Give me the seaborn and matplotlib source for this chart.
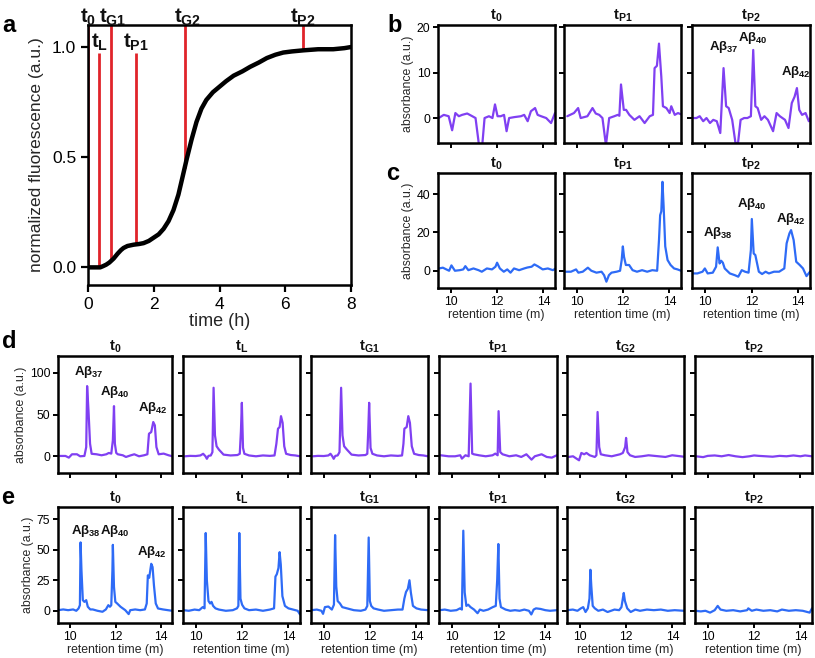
import matplotlib
matplotlib.use("Agg")
import matplotlib.pyplot as plt
import matplotlib.transforms as mtransforms
import seaborn as sns
import numpy as np

# ---------------- data ----------------
# panel a: normalized ThT fluorescence
time_h = [0, 0.1, 0.2, 0.3, 0.37, 0.45, 0.55, 0.65, 0.78, 0.9, 1.0, 1.08, 1.2, 1.39, 1.55, 1.69,
          1.85, 1.99, 2.15, 2.3, 2.45, 2.6, 2.75, 2.86, 3.0, 3.15, 3.3, 3.45, 3.6, 3.8, 4.0, 4.2,
          4.43, 4.7, 4.93, 5.2, 5.44, 5.7, 5.94, 6.2, 6.55, 7.0, 7.46, 7.8, 8.0]
fluor = [0, 0, 0, 0, 0, 0.005, 0.012, 0.022, 0.04, 0.062, 0.078, 0.088, 0.097, 0.103, 0.106, 0.11,
         0.12, 0.134, 0.15, 0.175, 0.21, 0.26, 0.33, 0.40, 0.49, 0.58, 0.66, 0.72, 0.76, 0.795, 0.82, 0.845,
         0.87, 0.89, 0.91, 0.93, 0.95, 0.965, 0.975, 0.98, 0.985, 0.99, 0.99, 0.995, 1.0]
mark_names = ["0", "L", "G1", "P1", "G2", "P2"]
mark_times = [0.0, 0.32, 0.71, 1.46, 2.94, 6.55]
mark_top = [1.1, 0.975, 1.1, 0.975, 1.1, 1.1]
mark_bottom = [0.0, 0.0, 0.03, 0.105, 0.45, 0.985]

# panel b (purple, Abeta37/40/42 mixture, low conc.)
b_t0_x = [9.48, 9.70, 9.91, 10.06, 10.20, 10.35, 10.49, 10.71, 10.93, 11.07, 11.22, 11.36, 11.46, 11.65, 11.80,
          11.91, 12.02, 12.16, 12.30, 12.41, 12.52, 12.74, 13.03, 13.17, 13.32, 13.46, 13.64, 13.75, 13.90,
          14.12, 14.33, 14.50]
b_t0_y = [0, 0.7, 0.4, -2.7, 1.1, 0.4, 0.7, 1.0, 0.4, 0, -6, -6, 0, 0.4, 0, 3, 0.4, 0.4, 0.7, -2.9, 0, 0.2,
          0.4, 0.7, -0.7, 1.5, 2.2, 0.7, 0.4, 0, -1.1, 1.1]
b_tP1_x = [9.59, 9.88, 10.06, 10.17, 10.46, 10.68, 10.82, 10.97, 11.11, 11.26, 11.40, 11.62, 11.77, 11.84,
           11.91, 12.03, 12.13, 12.27, 12.49, 12.71, 12.93, 13.15, 13.29, 13.36, 13.46, 13.55, 13.65, 13.72,
           13.87, 14.01, 14.08, 14.23, 14.37, 14.56]
b_tP1_y = [0.4, 1.1, 2.2, 0, 0.4, 2.2, 1.0, 0.7, 0, -6, 0, 0.4, 0.7, 0.5, 7.4, 1.8, 1.8, 0.7, -0.4, 0.4, -1.1,
           0.4, 0.7, 11, 11.5, 16.4, 9.1, 2.6, 2.2, 1.1, 2.6, 0.7, 1.1, 0.7]
b_tP2_x = [9.46, 9.64, 9.78, 9.93, 10.07, 10.22, 10.36, 10.51, 10.66, 10.80, 10.91, 11.02, 11.17, 11.31,
           11.42, 11.53, 11.68, 11.82, 11.97, 12.07, 12.16, 12.26, 12.41, 12.55, 12.70, 12.92, 13.07, 13.21,
           13.43, 13.58, 13.72, 13.84, 13.94, 14.04, 14.16, 14.31, 14.45, 14.6]
b_tP2_y = [0, 0, 0.4, -0.7, 0, -1.1, -0.4, -0.7, -3.3, 11, 2.6, 2.2, -0.4, -5.5, -5.5, -0.4, 0, 0, 0.4, 15,
           2.6, 2.2, -0.4, 0.4, -0.4, -2.9, 1.1, 0.4, -0.4, -2.2, 3.3, 4.7, 6.6, 1.8, 0.7, 1.1, -0.7, 0.7]

# panel c (blue, Abeta38/40/42 mixture, low conc.)
c_t0_x = [9.49, 9.66, 9.81, 9.93, 10.03, 10.18, 10.39, 10.54, 10.63, 10.76, 10.98, 11.20, 11.34, 11.56,
          11.78, 11.93, 12.0, 12.12, 12.29, 12.44, 12.58, 12.73, 12.95, 13.17, 13.31, 13.49, 13.61, 13.75,
          13.97, 14.19, 14.41, 14.53]
c_t0_y = [1.2, 1.6, 0.7, 0, 2.8, 0, 0.3, 0.7, 2.4, 0.3, 1.2, 0.3, -0.5, 1.2, 0.7, 2.1, 4.2, 1.2, -0.5, 0.7,
          -1, 1.2, 0.3, 1.2, 1.7, 2.1, 3.3, 2.4, 0.7, 1.2, 0.3, 1.2]
c_tP1_x = [9.46, 9.75, 9.97, 10.07, 10.26, 10.48, 10.63, 10.85, 11.07, 11.18, 11.28, 11.39, 11.50, 11.72,
           11.87, 11.94, 11.99, 12.04, 12.12, 12.26, 12.41, 12.60, 12.82, 13.04, 13.26, 13.47, 13.55, 13.60,
           13.65, 13.70, 13.75, 13.82, 13.92, 14.05, 14.2, 14.35, 14.5]
c_tP1_y = [-0.5, -0.5, 0.7, -1, -0.5, 1.6, 0, -1, -0.5, -2.3, -5.7, -2.3, -1, -0.5, 0, 5.6, 12.7, 7.3, 3, 3,
           0.3, -0.5, 0.3, -0.5, 0.3, 0, 16, 29, 31, 46.4, 33.6, 12.7, 5.6, 3, 1.2, 0.7, 0]
c_tP2_x = [9.43, 9.68, 9.9, 10.0, 10.12, 10.34, 10.48, 10.55, 10.63, 10.70, 10.77, 10.85, 11.07, 11.28,
           11.43, 11.58, 11.72, 11.87, 11.97, 12.01, 12.09, 12.16, 12.31, 12.45, 12.60, 12.74, 12.96, 13.18,
           13.40, 13.50, 13.62, 13.69, 13.80, 13.91, 14.06, 14.20, 14.35, 14.50]
c_tP2_y = [-1.4, -1.4, -0.5, 1.2, -1.4, -1, 2.1, 12.2, 3.8, 5.2, 4.2, 1.2, -1.4, -2.3, -3.1, 0.3, -0.5, -1,
           10.8, 27, 9, 8.2, -0.5, -1.7, -0.5, -1.4, -0.5, -0.5, 1.2, 14.3, 19.5, 21.2, 16, 4.7, 3, 1.2, -2.8, -0.5]

# panel d (purple, high conc.)
d_t0_x = [9.54, 9.78, 9.93, 10.07, 10.29, 10.43, 10.62, 10.70, 10.74, 10.80, 10.87, 10.94, 11.16, 11.38,
          11.59, 11.70, 11.81, 11.88, 11.93, 11.97, 12.03, 12.10, 12.32, 12.46, 12.68, 12.83, 13.04, 13.26,
          13.41, 13.48, 13.58, 13.67, 13.74, 13.81, 13.91, 14.13, 14.35, 14.52]
d_t0_y = [0.4, 0.4, -1.6, 2.4, 2.4, 0, 0.4, 11, 84, 55, 15, 3, 2.4, 1.2, 2.4, 4, 3.2, 19, 60, 15, 4, 2.4, 1.2,
          -0.8, 1.2, 2.4, 0, 1.2, 2.4, 27, 29, 41, 37, 11, 2.4, 3.2, 1.2, 0]
d_tL_x = [9.54, 9.75, 10.0, 10.2, 10.32, 10.42, 10.48, 10.55, 10.65, 10.72, 10.77, 10.83, 10.90, 11.0, 11.2,
          11.5, 11.8, 11.9, 11.95, 11.99, 12.04, 12.1, 12.3, 12.6, 12.9, 13.2, 13.4, 13.48, 13.55, 13.62,
          13.68, 13.75, 13.82, 13.9, 14.1, 14.3, 14.5]
d_tL_y = [0, 0.5, 0.3, 1, 3, 0, -3, 0.5, 1, 5, 82, 25, 12, 8, 2, 1, 1.5, 3, 30, 64, 10, 3, 1, 0, 1, 0.5, 1, 15,
          33, 35, 48, 40, 12, 3, 1.5, 1, 0]
d_tG1_x = [9.54, 9.75, 10.0, 10.2, 10.29, 10.37, 10.43, 10.5, 10.6, 10.68, 10.75, 10.81, 10.88, 11.0, 11.2,
           11.5, 11.8, 11.88, 11.92, 11.96, 12.02, 12.1, 12.3, 12.6, 12.9, 13.2, 13.38, 13.44, 13.48, 13.58,
           13.65, 13.72, 13.8, 13.9, 14.1, 14.3, 14.5]
d_tG1_y = [0, 0.5, 0.3, 1, 3, 0, -3, 0.5, 1, 5, 82, 25, 12, 8, 2, 1, 1.5, 3, 30, 64, 10, 3, 1, 0, 1, 0.5, 1,
           15, 33, 35, 48, 40, 12, 3, 1.5, 1, 0]
d_tP1_x = [9.52, 9.86, 10.14, 10.36, 10.43, 10.58, 10.72, 10.80, 10.87, 10.94, 11.16, 11.45, 11.74, 11.86,
           11.96, 12.00, 12.07, 12.17, 12.46, 12.75, 12.97, 13.19, 13.41, 13.55, 13.84, 14.06, 14.28, 14.49]
d_tP1_y = [1.2, 0, 0, 1.2, -2.8, 1.2, 0, 87, 3.2, 2.4, 1.2, 0, 1.2, 3.2, 1.2, 54, 5, 2.4, 0, 1.2, -0.8, 2.4,
           -4, 0, 2.4, -0.8, -1.6, 1.2]
d_tG2_x = [9.52, 9.71, 9.86, 9.97, 10.07, 10.19, 10.29, 10.43, 10.65, 10.72, 10.77, 10.84, 10.91, 11.09,
           11.38, 11.74, 11.86, 11.96, 12.0, 12.06, 12.17, 12.39, 12.68, 12.97, 13.26, 13.70, 13.99, 14.35, 14.57]
d_tG2_y = [-0.8, 0, -2.8, -4.8, 4, 2.4, 4, 1.2, -0.8, 1.2, 53, 11, 2.4, 1.2, 0, 2.4, 4, 11, 22, 5, 1.2, -0.8,
           0, 1.2, 0.4, -0.8, 1.2, 0, -0.8]
d_tP2_x = [9.5, 9.8, 10.0, 10.3, 10.6, 10.9, 11.2, 11.5, 11.8, 12.0, 12.2, 12.5, 12.8, 13.1, 13.4, 13.7,
           14.0, 14.2, 14.5]
d_tP2_y = [0, -1, 0.5, 1, 0, 1.5, 0, -1, 0, 1, 0.5, 0, -0.5, 0.5, 0, 1, 0, 1, 0]

# panel e (blue, high conc.)
e_t0_x = [9.46, 9.68, 9.90, 10.12, 10.26, 10.36, 10.42, 10.45, 10.49, 10.55, 10.62, 10.70, 10.77, 10.88,
          10.99, 11.20, 11.42, 11.57, 11.68, 11.75, 11.81, 11.86, 11.88, 11.93, 11.99, 12.07, 12.22, 12.43,
          12.58, 12.65, 12.87, 13.09, 13.30, 13.38, 13.43, 13.49, 13.58, 13.64, 13.70, 13.78, 13.88, 14.10,
          14.32, 14.51]
e_t0_y = [0.5, 1.1, 0.5, 1.1, 0, 1.9, 4.6, 56, 33, 8.7, 7.3, 8.7, 3.3, 1.1, 1.1, 0, -0.8, 1.1, 4.6, 3.3, 4.6,
          33, 54, 19.5, 7.3, 6, 3.3, 0.5, -2.7, 0.5, 1.1, 0.5, 1.1, 6, 29, 27, 38.5, 35.8, 20.9, 6, 1.9, 1.1,
          0.5, 0]
e_tL_x = [9.47, 9.7, 9.95, 10.15, 10.3, 10.38, 10.43, 10.48, 10.55, 10.62, 10.68, 10.75, 10.85, 11.0, 11.3,
          11.6, 11.78, 11.84, 11.88, 11.93, 12.0, 12.1, 12.3, 12.6, 12.9, 13.2, 13.38, 13.44, 13.5, 13.57,
          13.62, 13.67, 13.74, 13.85, 14.0, 14.2, 14.4, 14.5]
e_tL_y = [0.5, 0, 1, 0.5, 3, 2, 63.7, 25, 8, 6, 7.3, 4, 2, 1, 0, 0.5, 2, 4, 63.7, 10, 5, 2, 0.5, 1, 0, 1, 2,
          28, 30, 35, 48, 38, 12, 4, 2, 1, 0, -3]
e_tG1_x = [9.47, 9.7, 9.9, 9.97, 10.05, 10.2, 10.35, 10.44, 10.49, 10.54, 10.6, 10.7, 10.8, 11.0, 11.3,
           11.6, 11.8, 11.88, 11.94, 11.99, 12.05, 12.15, 12.35, 12.6, 12.9, 13.2, 13.4, 13.48, 13.55, 13.63,
           13.7, 13.76, 13.85, 14.0, 14.2, 14.5]
e_tG1_y = [0.5, 1, 0, -2.5, 3, 3.5, 1, 5, 62, 20, 8, 6, 3, 2, 0.5, 0, 1, 4, 60, 8, 4, 2, 1, 0, 0.5, 1, 1, 10,
           15.4, 18, 25, 15, 4, 2, 1, 0.5]
e_tP1_x = [9.47, 9.7, 9.95, 10.2, 10.35, 10.43, 10.49, 10.55, 10.62, 10.7, 10.8, 10.95, 11.1, 11.2, 11.35,
           11.55, 11.75, 11.88, 11.94, 11.99, 12.04, 12.1, 12.3, 12.5, 12.7, 12.9, 13.1, 13.3, 13.4, 13.5,
           13.6, 13.8, 14.0, 14.2, 14.5]
e_tP1_y = [0.5, 1, 0, 0.5, 2, 1, 65.6, 15, 4, 5, 3, 1, -2, 1, 0, 1, 3, 4, 25, 54.7, 10, 3, 1, 0, 0.5, 0, 1, 0,
           -3, 1, 2, 1.5, 0.5, 0, 0.5]
e_tG2_x = [9.47, 9.7, 9.9, 10.05, 10.15, 10.25, 10.35, 10.42, 10.46, 10.5, 10.56, 10.65, 10.8, 11.0, 11.2,
           11.5, 11.7, 11.8, 11.86, 11.9, 11.95, 12.05, 12.2, 12.4, 12.6, 12.9, 13.2, 13.5, 13.8, 14.1, 14.5]
e_tG2_y = [0.5, 1, 0, 2, 3, -1, 2, 10, 33.6, 20, 4, 2, 0, 1, -1, 1, 0.5, 3, 10, 14.6, 8, 2, -1, 1, 0, 1, 0.5,
           1, 0, 0.5, 0]
e_tP2_x = [9.47, 9.7, 9.9, 10.1, 10.3, 10.43, 10.55, 10.8, 11.1, 11.4, 11.7, 11.75, 11.9, 12.1, 12.4, 12.7,
           13.0, 13.2, 13.5, 13.8, 14.1, 14.4, 14.5]
e_tP2_y = [0, -0.5, 0, -1.5, 0.5, 4, 1, 0, 0.5, -0.5, 0.5, 2, 0, 1, 0, 0.5, -0.5, 1, 0, 0.5, 0, -1.5, 2]

# ---------------- style ----------------
sns.set_theme(style="ticks")
plt.rcParams["font.family"] = ["Liberation Sans", "DejaVu Sans"]
plt.rcParams["mathtext.fontset"] = "custom"
plt.rcParams["mathtext.rm"] = "Liberation Sans"
plt.rcParams["mathtext.bf"] = "Liberation Sans:bold"
plt.rcParams["mathtext.it"] = "Liberation Sans:italic"
plt.rcParams["axes.linewidth"] = 1.8
plt.rcParams["axes.edgecolor"] = "black"
plt.rcParams["xtick.color"] = "black"
plt.rcParams["ytick.color"] = "black"
plt.rcParams["text.color"] = "#111111"

PURPLE = "#8040f2"
BLUE = "#2e6bf6"
RED = "#e0242a"

W, H = 815, 658
fig = plt.figure(figsize=(W / 100, H / 100), dpi=100)


def px_axes(left, top, right, bottom):
    return fig.add_axes([left / W, 1 - bottom / H, (right - left) / W, (bottom - top) / H])


def tlabel(name):
    return "t$_{\\mathbf{" + name + "}}$"


def ablabel(num):
    return "A\u03b2$_{\\mathbf{" + num + "}}$"


# ---------------- panel a ----------------
ax = px_axes(88, 25, 351, 285)
for t, top, bot in zip(mark_times, mark_top, mark_bottom):
    ax.plot([t, t], [bot, top], color=RED, lw=2.0, zorder=1, solid_capstyle="butt")
sns.lineplot(x=time_h, y=fluor, ax=ax, color="black", lw=3.2, estimator=None, sort=False, zorder=3)
ax.set_xlim(0, 8)
ax.set_ylim(-0.08, 1.1)
ax.set_xticks([0, 2, 4, 6, 8])
ax.set_yticks([0.0, 0.5, 1.0])
ax.set_yticklabels(["0.0", "0.5", "1.0"])
ax.tick_params(labelsize=12.5, length=5, width=1.6)
ax.set_xlabel("time (h)", fontsize=13, labelpad=1)
ax.set_ylabel("normalized fluorescence (a.u.)", fontsize=12.5, labelpad=6)
trans = mtransforms.blended_transform_factory(ax.transData, ax.transAxes)
outside = {"0": 0.0, "G1": 0.76, "G2": 3.04, "P2": 6.53}
for nm, xx in outside.items():
    ax.text(xx, 1.03, tlabel(nm), transform=trans, ha="center", va="center",
            fontsize=14.5, fontweight="bold", clip_on=False)
ax.text(0.34, 1.02, tlabel("L"), ha="center", va="center", fontsize=14.5, fontweight="bold")
ax.text(1.45, 1.02, tlabel("P1"), ha="center", va="center", fontsize=14.5, fontweight="bold")

# ---------------- small panels ----------------
SMALL = 8.8


def chrom(ax, x, y, color, ylim, yticks, title, show_ylab, show_xlab, show_xticklabels):
    sns.lineplot(x=x, y=y, ax=ax, color=color, lw=1.6, estimator=None, sort=False)
    ax.set_xlim(9.45, 14.5)
    ax.set_ylim(*ylim)
    ax.set_xticks([10, 12, 14])
    ax.set_yticks(yticks)
    ax.tick_params(labelsize=SMALL, length=3.5, width=1.4, pad=2)
    ax.set_title(title, fontsize=10.8, fontweight="bold", pad=4)
    if show_ylab:
        ax.set_ylabel("absorbance (a.u.)", fontsize=SMALL, labelpad=2)
    else:
        ax.set_ylabel("")
        ax.set_yticklabels([])
    if show_xticklabels:
        ax.set_xticklabels(["10", "12", "14"])
    else:
        ax.set_xticklabels([])
    if show_xlab:
        ax.set_xlabel("retention time (m)", fontsize=SMALL, labelpad=1)
    else:
        ax.set_xlabel("")


bc_cols = [(438, 555), (564, 681), (692, 810)]
b_x = [b_t0_x, b_tP1_x, b_tP2_x]
b_y = [b_t0_y, b_tP1_y, b_tP2_y]
c_x = [c_t0_x, c_tP1_x, c_tP2_x]
c_y = [c_t0_y, c_tP1_y, c_tP2_y]
bc_titles = ["0", "P1", "P2"]
b_axes, c_axes = [], []
for i, (l, r) in enumerate(bc_cols):
    axb = px_axes(l, 25, r, 143)
    chrom(axb, b_x[i], b_y[i], PURPLE, (-5.5, 20.5), [0, 10, 20], tlabel(bc_titles[i]),
          i == 0, False, False)
    b_axes.append(axb)
    axc = px_axes(l, 173, r, 288)
    chrom(axc, c_x[i], c_y[i], BLUE, (-9, 51), [0, 20, 40], tlabel(bc_titles[i]),
          i == 0, True, True)
    c_axes.append(axc)

de_cols = [(58, 172), (183, 300), (311, 428), (439, 557), (567, 684), (695, 812)]
de_titles = ["0", "L", "G1", "P1", "G2", "P2"]
d_x = [d_t0_x, d_tL_x, d_tG1_x, d_tP1_x, d_tG2_x, d_tP2_x]
d_y = [d_t0_y, d_tL_y, d_tG1_y, d_tP1_y, d_tG2_y, d_tP2_y]
e_x = [e_t0_x, e_tL_x, e_tG1_x, e_tP1_x, e_tG2_x, e_tP2_x]
e_y = [e_t0_y, e_tL_y, e_tG1_y, e_tP1_y, e_tG2_y, e_tP2_y]
d_axes, e_axes = [], []
for i, (l, r) in enumerate(de_cols):
    axd = px_axes(l, 356, r, 473)
    chrom(axd, d_x[i], d_y[i], PURPLE, (-20, 120), [0, 50, 100], tlabel(de_titles[i]),
          i == 0, False, False)
    d_axes.append(axd)
    axe = px_axes(l, 507, r, 623)
    chrom(axe, e_x[i], e_y[i], BLUE, (-10, 85), [0, 25, 50, 75], tlabel(de_titles[i]),
          i == 0, True, True)
    e_axes.append(axe)

# peak annotations
AB = dict(ha="center", va="center", fontsize=9.5, fontweight="bold")
b_axes[2].text(10.8, 15.7, ablabel("37"), **AB)
b_axes[2].text(12.05, 17.6, ablabel("40"), **AB)
b_axes[2].text(13.9, 10.2, ablabel("42"), **AB)
c_axes[2].text(10.55, 19.5, ablabel("38"), **AB)
c_axes[2].text(12.0, 35, ablabel("40"), **AB)
c_axes[2].text(13.7, 27, ablabel("42"), **AB)
d_axes[0].text(10.83, 101, ablabel("37"), **AB)
d_axes[0].text(11.99, 77, ablabel("40"), **AB)
d_axes[0].text(13.67, 58, ablabel("42"), **AB)
e_axes[0].text(10.7, 65.6, ablabel("38"), **AB)
e_axes[0].text(11.97, 65.6, ablabel("40"), **AB)
e_axes[0].text(13.6, 48.5, ablabel("42"), **AB)

# panel letters
for letter, (px, py) in {"a": (9, 25), "b": (395, 25), "c": (393, 173),
                         "d": (9, 342), "e": (8, 497)}.items():
    fig.text(px / W, 1 - py / H, letter, fontsize=17, fontweight="bold",
             ha="center", va="center", color="black")

fig.savefig("out.png", dpi=100)
